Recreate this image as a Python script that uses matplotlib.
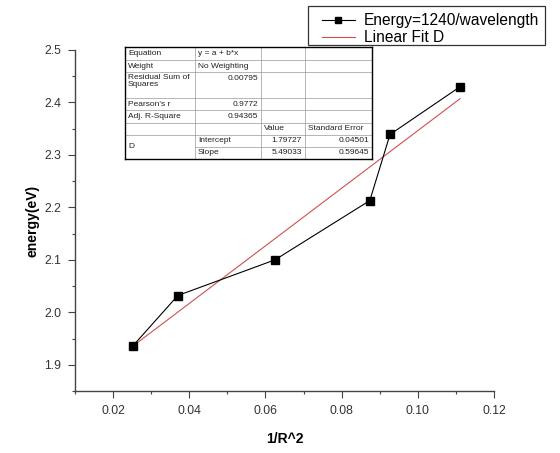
import matplotlib
matplotlib.use("Agg")
import matplotlib.pyplot as plt
from matplotlib.lines import Line2D
from matplotlib.patches import Rectangle
from matplotlib.ticker import MultipleLocator, FixedLocator
import numpy as np

plt.rcParams['font.family'] = ['Liberation Sans', 'DejaVu Sans']

# ---- data ----
inv_r2 = [0.0252, 0.0370, 0.0625, 0.0874, 0.0927, 0.1111]
energy = [1.936, 2.032, 2.100, 2.213, 2.339, 2.430]
series_label = "Energy=1240/wavelength"
fit_label = "Linear Fit D"
intercept = 1.79727
slope = 5.49033

stat_labels = ["Equation", "Weight", "Residual Sum of\nSquares", "Pearson's r", "Adj. R-Square"]
stat_values = ["y = a + b*x", "No Weighting", "0.00795", "0.9772", "0.94365"]
param_names = ["Intercept", "Slope"]
param_values = ["1.79727", "5.49033"]
param_errors = ["0.04501", "0.59645"]
col_headers = ["Value", "Standard Error"]
fit_name = "D"

xticks = [0.02, 0.04, 0.06, 0.08, 0.10, 0.12]
xticklabels = ["0.02", "0.04", "0.06", "0.08", "0.10", "0.12"]
yticks = [1.9, 2.0, 2.1, 2.2, 2.3, 2.4, 2.5]
yticklabels = ["1.9", "2.0", "2.1", "2.2", "2.3", "2.4", "2.5"]

W, H = 560, 453
fig = plt.figure(figsize=(W / 100, H / 100), dpi=100)
L, R, T, B = 75, 494, 50, 391
ax = fig.add_axes([L / W, 1 - B / H, (R - L) / W, (B - T) / H])

ax.plot(inv_r2, energy, color='black', lw=0.8, marker='s', ms=6,
        mfc='black', mec='black', label=series_label, zorder=3)
xf = np.array([min(inv_r2), max(inv_r2)])
ax.plot(xf, intercept + slope * xf, color='#d05050', lw=0.8, label=fit_label, zorder=2)

ax.set_xlim(0.01, 0.12)
ax.set_ylim(1.85, 2.5)
ax.xaxis.set_major_locator(FixedLocator(xticks))
ax.set_xticklabels(xticklabels)
ax.xaxis.set_minor_locator(MultipleLocator(0.01))
ax.yaxis.set_major_locator(FixedLocator(yticks))
ax.set_yticklabels(yticklabels)
ax.yaxis.set_minor_locator(MultipleLocator(0.05))
for s in ['top', 'right']:
    ax.spines[s].set_visible(False)
for s in ['left', 'bottom']:
    ax.spines[s].set_color('#444444')
    ax.spines[s].set_linewidth(1.0)
ax.tick_params(which='major', direction='out', length=5, width=0.8, color='#444444',
               labelsize=8.8, labelcolor='#333333', pad=5)
ax.tick_params(which='minor', direction='out', length=2.5, width=0.8, color='#444444')

ax.set_xlabel("1/R^2", fontsize=10, fontweight='bold', labelpad=11)
ax.set_ylabel("energy(eV)", fontsize=10, fontweight='bold', labelpad=3)

fx = lambda x: x / W
fy = lambda y: 1 - y / H

# legend (frame drawn separately)
leg = fig.legend(loc='upper left', bbox_to_anchor=(fx(322), fy(13)),
                 fontsize=11.2, frameon=False,
                 numpoints=1, handlelength=2.1, handletextpad=0.6,
                 borderpad=0.0, labelspacing=0.15, borderaxespad=0)
for t in leg.get_texts():
    t.set_color('black')
for h in leg.legend_handles:
    if h.get_marker() == 's':
        h.set_markersize(5)
fig.add_artist(Rectangle((fx(308), fy(45)), fx(545) - fx(308), fy(6) - fy(45),
                         facecolor='none', edgecolor='#333333', lw=0.9))

# stats table drawn in figure pixel coords
cols = [125, 195, 261, 305, 372]
rows = [47, 60, 72, 98, 110, 123, 135, 147, 159]
gray = '#999999'
fs = 6.0

def hline(y, x0, x1, c=gray, lw=0.5):
    fig.add_artist(Line2D([fx(x0), fx(x1)], [fy(y), fy(y)], color=c, lw=lw))

def vline(x, y0, y1, c=gray, lw=0.5):
    fig.add_artist(Line2D([fx(x), fx(x)], [fy(y0), fy(y1)], color=c, lw=lw))

fig.add_artist(Rectangle((fx(cols[0]), fy(rows[-1])), fx(cols[-1]) - fx(cols[0]),
                         fy(rows[0]) - fy(rows[-1]), facecolor='white',
                         edgecolor='none', zorder=0.5))
for i, y in enumerate(rows[1:-1], start=1):
    if i == 7:
        hline(y, cols[1], cols[-1])
    else:
        hline(y, cols[0], cols[-1])
for x in cols[1:-1]:
    vline(x, rows[0], rows[-1])
hline(rows[0], cols[0], cols[-1], c='black', lw=1.0)
hline(rows[-1], cols[0], cols[-1], c='black', lw=1.0)
vline(cols[0], rows[0], rows[-1], c='black', lw=1.0)
vline(cols[-1], rows[0], rows[-1], c='black', lw=1.0)

def txt(x, y, s, ha='left', va='center'):
    fig.text(fx(x), fy(y), s, fontsize=fs, ha=ha, va=va, color='#222222',
             linespacing=1.0)

pad = 3
for i, (lab, val) in enumerate(zip(stat_labels, stat_values)):
    y0, y1 = rows[i], rows[i + 1]
    if i == 2:
        txt(cols[0] + pad, y0 + 2, lab, va='top')
        txt(cols[2] - pad, y0 + 6.5, val, ha='right')
    else:
        yc = (y0 + y1) / 2
        txt(cols[0] + pad, yc, lab)
        if i < 2:
            txt(cols[1] + pad, yc, val)
        else:
            txt(cols[2] - pad, yc, val, ha='right')
yc = (rows[5] + rows[6]) / 2
txt(cols[2] + pad, yc, col_headers[0])
txt(cols[3] + pad, yc, col_headers[1])
txt(cols[0] + pad, (rows[6] + rows[8]) / 2, fit_name)
for j in range(2):
    yc = (rows[6 + j] + rows[7 + j]) / 2
    txt(cols[1] + pad, yc, param_names[j])
    txt(cols[3] - pad, yc, param_values[j], ha='right')
    txt(cols[4] - pad, yc, param_errors[j], ha='right')

fig.savefig("out.png", dpi=100)
